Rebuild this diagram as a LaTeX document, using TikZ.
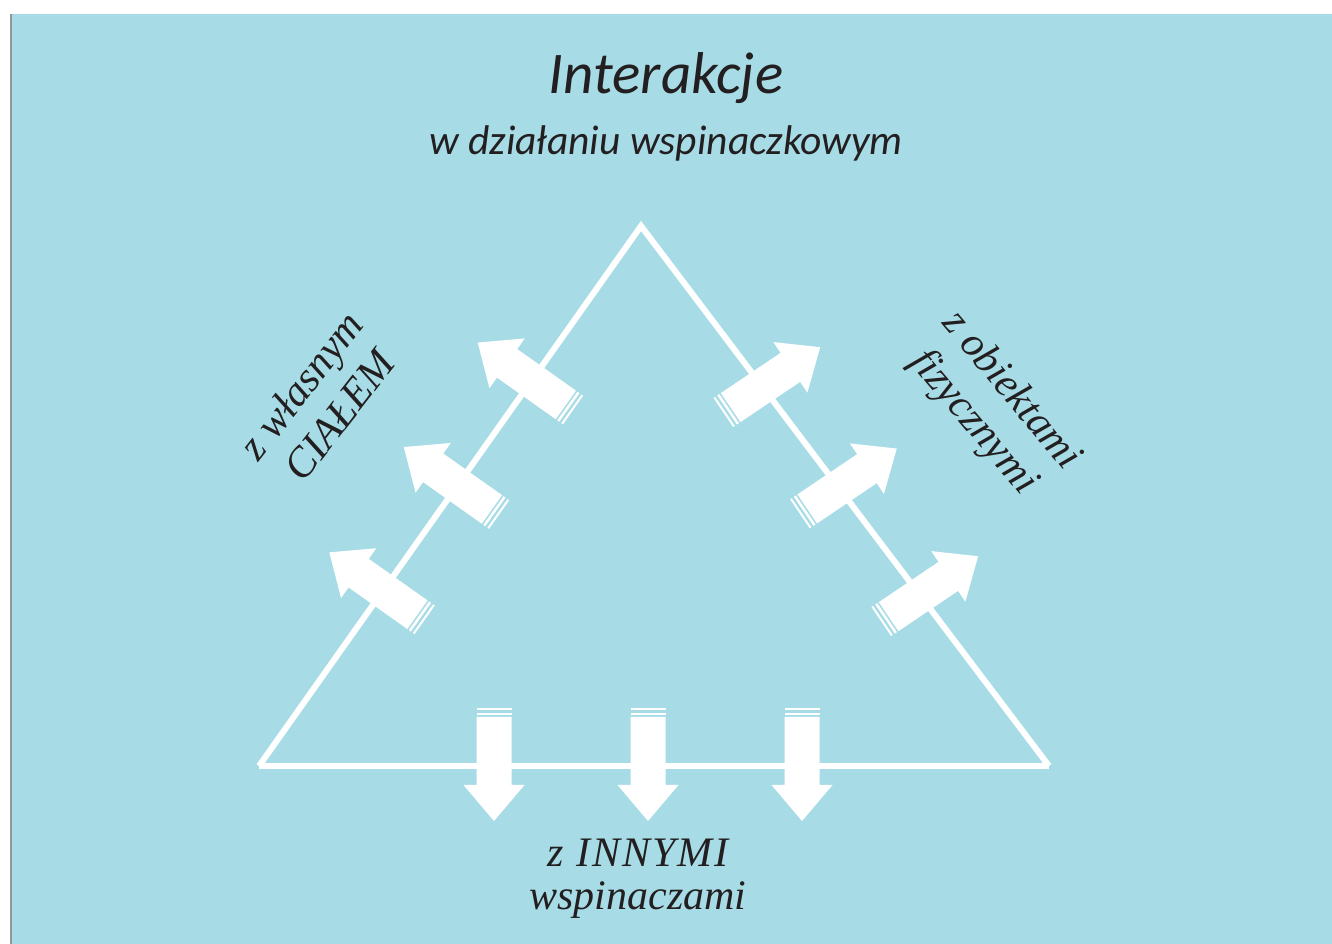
\documentclass[tikz,border=0pt]{standalone}
\usepackage{fontspec}
\newfontfamily\titlefont{Carlito}
\newfontfamily\labelfont{Liberation Serif}
\newfontfamily\widelabelfont[LetterSpace=5]{Liberation Serif}
\usetikzlibrary{calc}
\definecolor{bgblue}{RGB}{167,220,231}
\definecolor{ink}{RGB}{35,31,32}
\definecolor{edgegray}{RGB}{150,150,150}
\tikzset{
  tri/.style={white, line width=6pt, line join=miter},
  lbl/.style={text=ink, inner sep=0pt, font=\labelfont\itshape\fontsize{42}{49}\selectfont, align=center},
  ttl/.style={text=ink, inner sep=0pt, anchor=base},
  arrowfill/.style={fill=white, draw=none},
}
% #1 crossing point, #2 direction angle, #3 outward length, #4 inward length
\newcommand\climbarrow[4]{%
  \begin{scope}[shift={(#1)},rotate=#2]
    \path[arrowfill] (-#4,-17.5) -- ({#3-36},-17.5) -- ({#3-36},-30.5) -- (#3,0)
      -- ({#3-36},30.5) -- ({#3-36},17.5) -- (-#4,17.5) -- cycle;
    \path[arrowfill] ({-#4-4.3},-17.5) rectangle ({-#4-1.8},17.5);
    \path[arrowfill] ({-#4-8.8},-17.5) rectangle ({-#4-6.8},17.5);
  \end{scope}}
\begin{document}
\begin{tikzpicture}[x=1pt,y=1pt]
\useasboundingbox[fill=white] (0,0) rectangle (1332,944);
\fill[bgblue] (10,0) rectangle (1332,930);
\draw[edgegray, line width=2pt] (11,0) -- (11,930);

% titles
\node[ttl, font=\titlefont\itshape\fontsize{59}{64}\selectfont] (title) at (666,850) {Interakcje};
\node[ttl, font=\titlefont\itshape\fontsize{41.5}{46}\selectfont] (subtitle) at (666,789) {w działaniu wspinaczkowym};

% triangle
\coordinate (A) at (641,718);
\coordinate (B) at (259,178);
\coordinate (C) at (1049,178);
\draw[tri] (B) -- (A) -- (C);
\draw[tri] (B) -- (C);

% arrow crossing points
\coordinate (L1) at ($(B)!472pt!(A)$);
\coordinate (L2) at ($(B)!344pt!(A)$);
\coordinate (L3) at ($(B)!215pt!(A)$);
\coordinate (R1) at ($(A)!201pt!(C)$);
\coordinate (R2) at ($(A)!328pt!(C)$);
\coordinate (R3) at ($(A)!463pt!(C)$);
\coordinate (D1) at (494,178);
\coordinate (D2) at (648,178);
\coordinate (D3) at (802,178);

\climbarrow{L1}{144.7}{66}{42}
\climbarrow{L2}{144.7}{66}{42}
\climbarrow{L3}{144.7}{66}{42}
\climbarrow{R1}{34}{70}{38}
\climbarrow{R2}{34}{70}{38}
\climbarrow{R3}{34}{70}{38}
\climbarrow{D1}{-90}{55}{49}
\climbarrow{D2}{-90}{55}{49}
\climbarrow{D3}{-90}{55}{49}

% labels
\node[lbl, rotate=52] (body) at (320,544) {z własnym\\CIAŁEM};
\node[lbl, rotate=-50] (objects) at (992,537) {z obiektami\\fizycznymi};
\node[lbl, anchor=base, font=\widelabelfont\itshape\fontsize{42}{49}\selectfont] (others1) at (638,77) {z INNYMI};
\node[lbl, anchor=base] (others2) at (638,34) {wspinaczami};
\end{tikzpicture}
\end{document}
